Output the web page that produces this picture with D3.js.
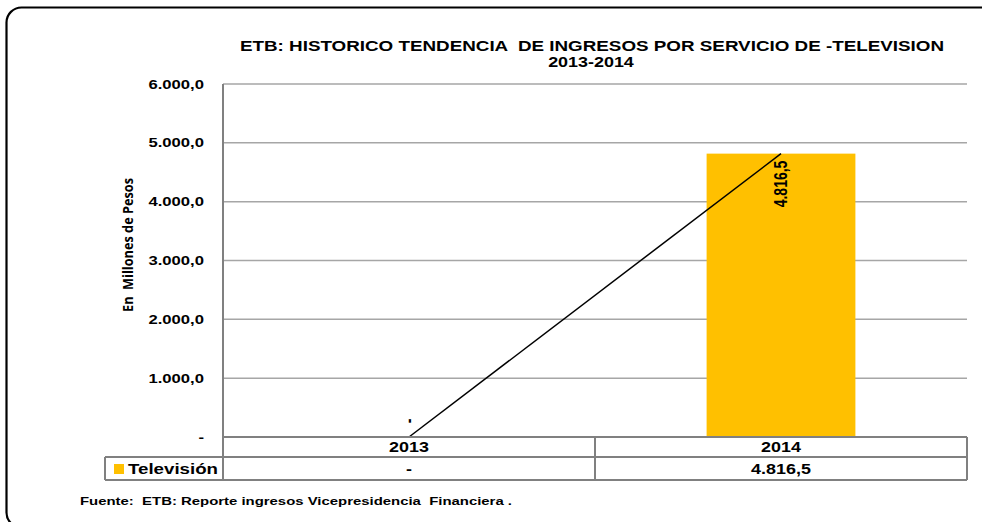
<!DOCTYPE html>
<html>
<head>
<meta charset="utf-8">
<script src="https://cdn.jsdelivr.net/npm/d3@7"></script>
<style>
  html, body { margin: 0; padding: 0; background: #fff; }
  svg { display: block; }
  text { font-family: "Liberation Sans", Arial, sans-serif; font-weight: bold; fill: #000; white-space: pre; }
</style>
</head>
<body>
<div id="chart"></div>
<script>
// data
var years = ["2013", "2014"];
var seriesName = "Televisión";
var tvValues = [0, 4816.5];
var yTicks = [0, 1000, 2000, 3000, 4000, 5000, 6000];

var W = 982, H = 522;
var es = d3.formatLocale({decimal: ",", thousands: ".", grouping: [3], currency: ["$", ""]});
var fmt = es.format(",.1f");
function lbl(v) { return v === 0 ? "-" : fmt(v); }

// the original picture is squeezed wider than normal, so text gets stretched too
var SX = 1.28;
function stretch(sel, k) {
    sel.each(function() {
        var w = this.getComputedTextLength();
        d3.select(this).attr("textLength", w * k).attr("lengthAdjust", "spacingAndGlyphs");
    });
}

var svg = d3.select("#chart").append("svg")
    .attr("width", W)
    .attr("height", H);

// outer rounded frame (runs off the right / bottom edge)
svg.append("rect")
    .attr("x", 6.5).attr("y", 7.5)
    .attr("width", 1020).attr("height", 520)
    .attr("rx", 15).attr("ry", 15)
    .attr("fill", "none")
    .attr("stroke", "#000")
    .attr("stroke-width", 2.2);

var plotL = 223, plotR = 967, plotT = 84, plotB = 437;
var rowH1 = 20, rowH2 = 23, tableLeft = 105;

var x = d3.scaleBand().domain(years).range([plotL, plotR]);
var y = d3.scaleLinear().domain([0, 6000]).range([plotB, plotT]);

// gridlines
svg.append("g").selectAll("line")
    .data(yTicks)
    .enter().append("line")
    .attr("x1", plotL).attr("x2", plotR)
    .attr("y1", function(d) { return y(d); })
    .attr("y2", function(d) { return y(d); })
    .attr("stroke", "#a6a6a6")
    .attr("stroke-width", 1.5);

// y tick labels
svg.append("g").selectAll("text")
    .data(yTicks)
    .enter().append("text")
    .attr("x", 204)
    .attr("y", function(d) { return y(d); })
    .attr("dy", "0.35em")
    .attr("text-anchor", "end")
    .attr("font-size", 13)
    .text(lbl)
    .call(stretch, SX);

// y axis title
svg.append("text")
    .attr("transform", "translate(128,245) scale(1.3,1) rotate(-90)")
    .attr("text-anchor", "middle")
    .attr("dy", "0.35em")
    .attr("font-size", 11)
    .style("font-family", "'Open Sans', 'Liberation Sans', sans-serif")
    .style("font-weight", "bold")
    .attr("textLength", 134)
    .attr("lengthAdjust", "spacingAndGlyphs")
    .text("En  Millones de Pesos");

// bars
var barW = x.bandwidth() * 0.4;
svg.append("g").selectAll("rect")
    .data(tvValues)
    .enter().append("rect")
    .attr("x", function(d, i) { return x(years[i]) + (x.bandwidth() - barW) / 2; })
    .attr("y", function(d) { return y(d); })
    .attr("width", barW)
    .attr("height", function(d) { return plotB - y(d); })
    .attr("fill", "#ffc000");

// trend line
var line = d3.line()
    .x(function(d, i) { return x(years[i]) + x.bandwidth() / 2; })
    .y(function(d) { return y(d); });
svg.append("path")
    .datum(tvValues)
    .attr("d", line)
    .attr("fill", "none")
    .attr("stroke", "#000")
    .attr("stroke-width", 1.5);

// data labels (rotated)
svg.append("g").selectAll("text")
    .data(tvValues)
    .enter().append("text")
    .attr("transform", function(d, i) {
        var cx = x(years[i]) + x.bandwidth() / 2;
        var yy = d === 0 ? y(d) - 16 : y(d) + 7;
        return "translate(" + cx + "," + yy + ") scale(1.3,1) rotate(-90)";
    })
    .attr("text-anchor", function(d) { return d === 0 ? "middle" : "end"; })
    .attr("dy", "0.35em")
    .attr("font-size", 14)
    .text(lbl);

// data table
var tbl = svg.append("g").attr("stroke", "#808080").attr("stroke-width", 2);
tbl.append("line").attr("x1", plotL).attr("x2", plotR).attr("y1", plotB).attr("y2", plotB);
tbl.append("line").attr("x1", tableLeft).attr("x2", plotR).attr("y1", plotB + rowH1).attr("y2", plotB + rowH1);
tbl.append("line").attr("x1", tableLeft).attr("x2", plotR).attr("y1", plotB + rowH1 + rowH2).attr("y2", plotB + rowH1 + rowH2);
tbl.append("line").attr("x1", tableLeft).attr("x2", tableLeft).attr("y1", plotB + rowH1).attr("y2", plotB + rowH1 + rowH2);
tbl.append("line").attr("x1", plotL).attr("x2", plotL).attr("y1", plotT).attr("y2", plotB + rowH1 + rowH2);
tbl.append("line").attr("x1", plotR).attr("x2", plotR).attr("y1", plotB).attr("y2", plotB + rowH1 + rowH2);
tbl.selectAll(".div")
    .data(years.slice(1))
    .enter().append("line")
    .attr("x1", function(d) { return x(d); })
    .attr("x2", function(d) { return x(d); })
    .attr("y1", plotB).attr("y2", plotB + rowH1 + rowH2);

svg.append("g").selectAll("text")
    .data(years)
    .enter().append("text")
    .attr("x", function(d) { return x(d) + x.bandwidth() / 2; })
    .attr("y", plotB + rowH1 / 2)
    .attr("dy", "0.36em")
    .attr("text-anchor", "middle")
    .attr("font-size", 14)
    .text(function(d) { return d; })
    .call(stretch, SX);

svg.append("g").selectAll("text")
    .data(tvValues)
    .enter().append("text")
    .attr("x", function(d, i) { return x(years[i]) + x.bandwidth() / 2; })
    .attr("y", plotB + rowH1 + rowH2 / 2)
    .attr("dy", "0.36em")
    .attr("text-anchor", "middle")
    .attr("font-size", 14)
    .text(lbl)
    .call(stretch, SX);

svg.append("rect")
    .attr("x", 114).attr("y", plotB + rowH1 + 7)
    .attr("width", 10).attr("height", 10)
    .attr("fill", "#ffc000");
svg.append("text")
    .attr("x", 128)
    .attr("y", plotB + rowH1 + rowH2 / 2)
    .attr("dy", "0.36em")
    .attr("font-size", 15)
    .attr("textLength", 90)
    .attr("lengthAdjust", "spacingAndGlyphs")
    .text(seriesName);

// title
svg.append("text")
    .attr("x", 592).attr("y", 51)
    .attr("text-anchor", "middle")
    .attr("font-size", 15)
    .attr("textLength", 704)
    .attr("lengthAdjust", "spacingAndGlyphs")
    .text("ETB: HISTORICO TENDENCIA  DE INGRESOS POR SERVICIO DE -TELEVISION");
svg.append("text")
    .attr("x", 591).attr("y", 67)
    .attr("text-anchor", "middle")
    .attr("font-size", 14)
    .text("2013-2014")
    .call(stretch, SX);

// source note
svg.append("text")
    .attr("x", 80).attr("y", 505)
    .attr("font-size", 10.5)
    .attr("textLength", 432)
    .attr("lengthAdjust", "spacingAndGlyphs")
    .text("Fuente:  ETB: Reporte ingresos Vicepresidencia  Financiera .");
</script>
</body>
</html>
